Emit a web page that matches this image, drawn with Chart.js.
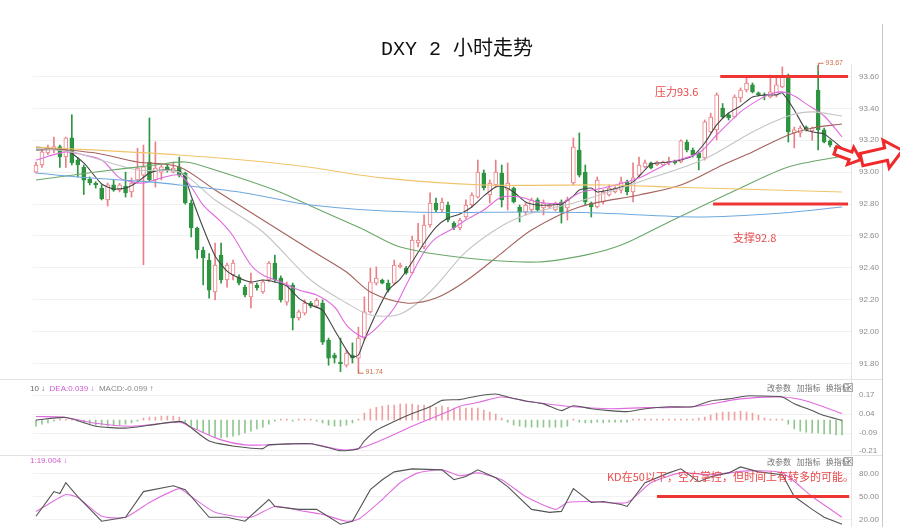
<!DOCTYPE html>
<html>
<head>
<meta charset="utf-8">
<script src="https://cdn.jsdelivr.net/npm/chart.js@4.4.1/dist/chart.umd.min.js"></script>
<style>
html, body { margin: 0; padding: 0; background: #fff; }
#wrap { position: relative; width: 900px; height: 527px; overflow: hidden; }
canvas { position: absolute; left: 0; }
</style>
</head>
<body>
<div id="wrap">
  <canvas id="mainChart" width="900" height="380" style="top:0"></canvas>
  <canvas id="macdChart" width="900" height="77" style="top:378px"></canvas>
  <canvas id="kdChart" width="900" height="72" style="top:455px"></canvas>
</div>
<script>
// 2h candles
var opens = [93.00, 93.045, 93.12, 93.14, 93.16, 93.095, 93.215, 93.076, 93.03, 92.957, 92.932, 92.90, 92.826, 92.92, 92.888, 92.913, 92.876, 92.951, 92.982, 93.064,
    92.951, 93.00, 93.033, 93.00, 93.033, 92.995, 92.807, 92.65, 92.512, 92.449, 92.25, 92.48, 92.324, 92.356, 92.343, 92.28, 92.218, 92.293, 92.249, 92.324,
    92.431, 92.337, 92.186, 92.293, 92.086, 92.117, 92.18, 92.16, 92.18, 91.948, 91.854, 91.81, 91.791, 91.854, 91.835, 91.96, 92.124, 92.305, 92.324, 92.305,
    92.305, 92.406, 92.399, 92.368, 92.556, 92.531, 92.669, 92.807, 92.763, 92.794, 92.681, 92.65, 92.719, 92.794, 92.844, 92.995, 92.857, 92.92, 92.995, 92.888,
    92.901, 92.782, 92.75, 92.763, 92.826, 92.776, 92.782, 92.763, 92.813, 92.776, 92.932, 93.139, 93.001, 92.807, 92.782, 92.813, 92.857, 92.876, 92.888, 92.939,
    92.876, 92.982, 93.033, 93.058, 93.045, 93.045, 93.06, 93.07, 93.064, 93.189, 93.139, 93.12, 93.089, 93.252, 93.265, 93.402, 93.359, 93.346, 93.465, 93.515,
    93.547, 93.497, 93.484, 93.471, 93.484, 93.534, 93.609, 93.246, 93.246, 93.283, 93.258, 93.515, 93.265, 93.196, 93.158, 93.10];
var highs = [93.064, 93.14, 93.17, 93.22, 93.17, 93.22, 93.36, 93.09, 93.045, 92.97, 92.94, 92.92, 92.932, 92.95, 92.93, 93.00, 92.964, 93.15, 93.17, 93.34,
    93.19, 93.045, 93.045, 93.064, 93.095, 93.00, 92.826, 92.656, 92.53, 92.49, 92.556, 92.556, 92.431, 92.449, 92.356, 92.293, 92.368, 92.305, 92.324, 92.44,
    92.48, 92.35, 92.312, 92.305, 92.136, 92.199, 92.19, 92.21, 92.199, 91.96, 91.866, 91.96, 91.885, 91.93, 92.029, 92.218, 92.399, 92.406, 92.33, 92.324,
    92.449, 92.43, 92.41, 92.60, 92.68, 92.732, 92.87, 92.838, 92.838, 92.813, 92.69, 92.71, 92.826, 92.87, 93.076, 93.014, 92.951, 93.076, 93.045, 93.058,
    92.907, 92.794, 92.807, 92.838, 92.838, 92.826, 92.80, 92.813, 92.826, 92.844, 93.214, 93.246, 93.045, 92.813, 92.97, 92.89, 92.92, 92.91, 92.97, 92.951,
    93.058, 93.095, 93.076, 93.064, 93.07, 93.07, 93.095, 93.076, 93.202, 93.202, 93.152, 93.127, 93.327, 93.37, 93.497, 93.43, 93.37, 93.484, 93.528, 93.59,
    93.559, 93.503, 93.497, 93.609, 93.59, 93.66, 93.615, 93.283, 93.29, 93.29, 93.283, 93.67, 93.277, 93.202, 93.164, 93.15];
var lows = [92.995, 93.03, 93.11, 93.12, 93.03, 93.03, 93.045, 92.97, 92.86, 92.92, 92.90, 92.826, 92.788, 92.88, 92.876, 92.844, 92.844, 92.932, 92.42, 92.94,
    92.907, 92.951, 93.00, 92.995, 92.97, 92.80, 92.594, 92.46, 92.293, 92.21, 92.20, 92.305, 92.28, 92.324, 92.293, 92.218, 92.149, 92.261, 92.24, 92.312,
    92.312, 92.186, 92.167, 92.011, 92.073, 92.105, 92.15, 92.15, 91.92, 91.79, 91.804, 91.75, 91.779, 91.804, 91.74, 91.948, 92.117, 92.293, 92.30, 92.249,
    92.293, 92.40, 92.36, 92.368, 92.531, 92.52, 92.656, 92.75, 92.75, 92.688, 92.64, 92.638, 92.71, 92.782, 92.838, 92.888, 92.807, 92.907, 92.782, 92.763,
    92.807, 92.688, 92.732, 92.75, 92.757, 92.732, 92.776, 92.757, 92.681, 92.70, 92.92, 92.97, 92.794, 92.719, 92.776, 92.80, 92.85, 92.87, 92.87, 92.857,
    92.813, 92.97, 93.026, 93.02, 93.04, 93.04, 93.045, 93.05, 93.058, 93.127, 93.095, 93.014, 93.076, 93.246, 93.202, 93.34, 93.327, 93.34, 93.44, 93.503,
    93.497, 93.478, 93.453, 93.465, 93.471, 93.528, 93.189, 93.152, 93.221, 93.258, 93.20, 93.139, 93.183, 93.158, 93.10, 93.09];
var closes = [93.045, 93.127, 93.15, 93.16, 93.095, 93.215, 93.06, 93.045, 92.95, 92.932, 92.92, 92.832, 92.92, 92.888, 92.92, 92.87, 92.932, 93.026, 93.033, 92.951,
    93.026, 93.033, 93.014, 93.026, 92.982, 92.807, 92.65, 92.512, 92.462, 92.261, 92.418, 92.324, 92.418, 92.431, 92.305, 92.23, 92.305, 92.274, 92.312, 92.431,
    92.324, 92.199, 92.293, 92.086, 92.124, 92.18, 92.16, 92.199, 91.935, 91.835, 91.835, 91.80, 91.866, 91.835, 91.96, 92.124, 92.312, 92.337, 92.305, 92.261,
    92.418, 92.418, 92.368, 92.575, 92.575, 92.669, 92.807, 92.763, 92.813, 92.70, 92.65, 92.70, 92.794, 92.857, 93.001, 92.901, 92.932, 93.001, 92.826, 92.932,
    92.813, 92.75, 92.794, 92.826, 92.763, 92.807, 92.794, 92.807, 92.75, 92.826, 93.158, 92.982, 92.813, 92.782, 92.951, 92.876, 92.901, 92.90, 92.939, 92.876,
    92.964, 93.045, 93.058, 93.026, 93.064, 93.064, 93.07, 93.06, 93.196, 93.139, 93.108, 93.089, 93.315, 93.346, 93.484, 93.346, 93.34, 93.471, 93.515, 93.559,
    93.503, 93.484, 93.478, 93.503, 93.547, 93.597, 93.252, 93.265, 93.277, 93.265, 93.277, 93.265, 93.189, 93.17, 93.108, 93.139];

// moving averages, [candle index, value]
var ma5 = [[0, 93.139], [5, 93.139], [8, 93.058], [11, 92.926], [13, 92.895], [15, 92.901], [17, 92.939], [19, 92.995], [21, 93.014], [24, 93.008],
    [25, 92.964], [26, 92.851], [28, 92.65], [30, 92.475], [32, 92.38], [34, 92.337], [36, 92.312], [38, 92.324], [40, 92.312], [42, 92.287],
    [44, 92.211], [46, 92.167], [48, 92.136], [50, 92.011], [52, 91.885], [53, 91.841], [54, 91.854], [55, 91.948], [57, 92.117], [59, 92.261],
    [61, 92.33], [63, 92.437], [65, 92.556], [67, 92.656], [69, 92.713], [71, 92.738], [73, 92.782], [75, 92.851], [77, 92.907], [78, 92.913],
    [80, 92.876], [82, 92.813], [84, 92.794], [86, 92.794], [88, 92.80], [90, 92.851], [91, 92.888], [93, 92.901], [94, 92.876], [96, 92.888],
    [98, 92.907], [100, 92.939], [102, 93.014], [103, 93.051], [106, 93.064], [108, 93.076], [110, 93.102], [112, 93.183], [114, 93.296], [116, 93.371],
    [118, 93.415], [120, 93.471], [122, 93.484], [124, 93.484], [125, 93.497], [127, 93.39], [129, 93.265], [131, 93.246], [132, 93.24], [135, 93.152]];
var ma10 = [[0, 93.076], [5, 93.127], [8, 93.108], [11, 93.076], [14, 92.964], [16, 92.939], [18, 92.932], [21, 92.964], [24, 92.982], [26, 92.907],
    [28, 92.794], [31, 92.688], [33, 92.60], [36, 92.418], [38, 92.356], [41, 92.312], [44, 92.261], [47, 92.23], [50, 92.155], [52, 92.042],
    [54, 91.979], [55, 91.967], [57, 92.023], [60, 92.149], [62, 92.293], [65, 92.50], [67, 92.587], [70, 92.65], [72, 92.70], [75, 92.763],
    [78, 92.844], [81, 92.844], [84, 92.813], [88, 92.807], [91, 92.87], [95, 92.901], [101, 92.964], [106, 93.058], [111, 93.12], [114, 93.233],
    [118, 93.378], [121, 93.453], [123, 93.49], [125, 93.503], [127, 93.478], [129, 93.428], [132, 93.352], [135, 93.221]];
var ma20 = [[0, 93.15], [6, 93.127], [17, 93.014], [24, 93.001], [30, 92.826], [38, 92.625], [46, 92.324], [52, 92.18], [56, 92.105], [61, 92.111],
    [66, 92.249], [72, 92.50], [78, 92.663], [83, 92.744], [90, 92.807], [101, 92.939], [112, 93.083], [120, 93.252], [126, 93.352], [130, 93.378], [135, 93.352]];
var ma30 = [[0, 93.158], [10, 93.12], [17, 93.064], [24, 93.033], [30, 92.888], [38, 92.70], [46, 92.512], [52, 92.374], [56, 92.249], [62, 92.18],
    [67, 92.211], [72, 92.318], [78, 92.493], [83, 92.638], [91, 92.782], [101, 92.857], [108, 92.92], [115, 93.045], [120, 93.127], [126, 93.233],
    [130, 93.277], [135, 93.302]];
var ma60 = [[0, 92.951], [10, 93.001], [20, 93.045], [25, 93.064], [30, 93.014], [40, 92.888], [46, 92.788], [55, 92.638], [61, 92.531], [72, 92.462],
    [84, 92.437], [92, 92.48], [98, 92.543], [106, 92.688], [118, 92.901], [126, 93.033], [135, 93.10]];
var ma120 = [[0, 92.995], [7, 92.97], [19, 92.939], [24, 92.92], [35, 92.87], [46, 92.794], [63, 92.75], [83, 92.75], [94, 92.744], [111, 92.719],
    [125, 92.744], [135, 92.782]];
var ma250 = [[0, 93.158], [24, 93.108], [43, 93.045], [58, 92.964], [75, 92.92], [96, 92.92], [106, 92.907], [135, 92.876]];

// MACD
var macdHist = [-0.041, -0.027, -0.02, -0.007, 0.007, 0.007, 0.007, -0.007, -0.02, -0.027, -0.034, -0.034, -0.041, -0.034, -0.034, -0.027, -0.02, -0.007, 0.014, 0.02,
    0.02, 0.027, 0.027, 0.027, 0.02, -0.014, -0.041, -0.061, -0.082, -0.102, -0.116, -0.122, -0.116, -0.109, -0.102, -0.088, -0.075, -0.061, -0.048, -0.027,
    -0.007, 0.007, 0.007, -0.007, 0.007, 0.007, 0.007, -0.007, -0.02, -0.034, -0.041, -0.041, -0.034, -0.02, 0.007, 0.048, 0.075, 0.088, 0.095, 0.102,
    0.102, 0.109, 0.109, 0.109, 0.102, 0.102, 0.095, 0.088, 0.095, 0.088, 0.082, 0.088, 0.082, 0.082, 0.082, 0.068, 0.054, 0.041, 0.014, -0.014,
    -0.034, -0.041, -0.048, -0.048, -0.048, -0.048, -0.048, -0.048, -0.048, -0.041, 0.007, -0.014, -0.02, -0.02, -0.014, -0.02, -0.014, -0.014, -0.014, -0.014,
    0.007, 0.007, 0.007, 0.007, 0.007, 0.007, 0.007, 0.007, 0.007, 0.007, 0.007, 0.014, 0.02, 0.034, 0.048, 0.054, 0.054, 0.054, 0.061, 0.054,
    0.048, 0.034, 0.014, 0.007, 0.007, 0.007, -0.027, -0.061, -0.075, -0.082, -0.088, -0.088, -0.095, -0.095, -0.102, -0.102];
var dif = [[0, 0.0], [5, 0.018], [10, -0.042], [15, -0.055], [19, -0.035], [24, -0.009], [25, -0.022], [29, -0.142], [34, -0.182], [38, -0.195],
    [39, -0.169], [43, -0.162], [46, -0.162], [49, -0.189], [51, -0.209], [54, -0.195], [55, -0.142], [57, -0.069], [60, -0.009], [63, 0.045],
    [66, 0.091], [68, 0.135], [71, 0.14], [74, 0.165], [77, 0.178], [79, 0.158], [82, 0.131], [85, 0.111], [88, 0.065], [90, 0.098],
    [93, 0.078], [96, 0.065], [99, 0.058], [102, 0.078], [106, 0.091], [110, 0.091], [113, 0.131], [116, 0.145], [119, 0.165], [121, 0.165],
    [125, 0.158], [127, 0.111], [130, 0.065], [132, 0.031], [135, -0.002]];
var dea = [[0, 0.025], [5, 0.018], [10, -0.022], [16, -0.042], [24, -0.015], [26, -0.049], [31, -0.135], [35, -0.169], [39, -0.169], [46, -0.162],
    [51, -0.202], [54, -0.195], [58, -0.135], [63, -0.042], [69, 0.058], [71, 0.095], [74, 0.12], [78, 0.158], [82, 0.131], [90, 0.091],
    [96, 0.078], [102, 0.085], [110, 0.091], [118, 0.145], [125, 0.158], [129, 0.131], [135, 0.045]];

// KD
var kLine = [[0, 24.5], [3, 56.4], [4, 53.8], [5, 67.9], [7, 50], [11, 18.1], [15, 23.2], [18, 56.4], [23, 64.0], [25, 58.9],
    [29, 23.2], [32, 23.2], [35, 18.1], [39, 46.2], [40, 37.2], [44, 33.4], [47, 33.4], [51, 14.2], [53, 18.1], [56, 58.9],
    [58, 71.7], [60, 81.9], [63, 85.8], [68, 84.5], [70, 71.7], [72, 76], [74, 84.5], [77, 74.3], [79, 62.8], [83, 33.4],
    [86, 29.6], [88, 30.8], [90, 60.2], [93, 42.3], [95, 43.6], [98, 39.8], [99, 37.2], [102, 67.9], [106, 80.6], [108, 85.8],
    [111, 69.2], [113, 75.5], [116, 80.6], [118, 88.3], [121, 81.9], [125, 78.1], [127, 50], [130, 33.4], [132, 23.2], [135, 14.2]];
var dLine = [[0, 30.8], [2, 39.8], [5, 52.6], [7, 48.7], [11, 24.5], [15, 23.2], [19, 42.3], [24, 60.2], [26, 50], [30, 29.6],
    [36, 23.2], [40, 37.2], [45, 30.8], [48, 27.0], [52, 18.1], [54, 20.6], [58, 46.2], [61, 67.9], [64, 80.6], [68, 84.5],
    [71, 76.8], [74, 80.6], [78, 71.7], [82, 50], [87, 33.4], [89, 42.3], [93, 43.6], [99, 42.3], [103, 67.9], [108, 80.6],
    [113, 78.1], [119, 83.2], [125, 80.6], [130, 50], [135, 23.2]];

var priceTicks = [91.8, 92.0, 92.2, 92.4, 92.6, 92.8, 93.0, 93.2, 93.4, 93.6];
var macdTicks = [0.17, 0.04, -0.09, -0.21];
var kdTicks = [80, 50, 20];
var resistance = 93.6, support = 92.8, kdLevel = 50;

Chart.defaults.font.family = '"Liberation Sans", "DejaVu Sans", "Noto Sans CJK SC", sans-serif';
Chart.defaults.animation = false;

var upColor = '#ea7f86';
var downColor = '#2d9440';
var idx = closes.map(function (c, i) { return i; });
var candleColors = idx.map(function (i) { return closes[i] >= opens[i] ? upColor : downColor; });
var bodyFill = idx.map(function (i) { return closes[i] >= opens[i] ? '#ffffff' : downColor; });

function pts(arr) { return arr.map(function (p) { return { x: p[0], y: p[1] }; }); }
function maLine(arr, color, tension) {
    return { type: 'line', data: pts(arr), borderColor: color, borderWidth: 1.1, pointRadius: 0, tension: tension, order: 1 };
}
function vline(ctx, x, y0, y1, color) {
    ctx.strokeStyle = color; ctx.lineWidth = 1;
    ctx.beginPath(); ctx.moveTo(x, y0); ctx.lineTo(x, y1); ctx.stroke();
}
function hollowArrow(ctx, cx, cy, len, ang) {
    var shape = [[-0.5, -0.15], [0.1, -0.15], [0.1, -0.34], [0.5, 0], [0.1, 0.34], [0.1, 0.15], [-0.5, 0.15]];
    ctx.save();
    ctx.translate(cx, cy); ctx.rotate(ang);
    ctx.beginPath();
    shape.forEach(function (p, k) {
        if (k) ctx.lineTo(p[0] * len, p[1] * len); else ctx.moveTo(p[0] * len, p[1] * len);
    });
    ctx.closePath();
    ctx.fillStyle = '#fff'; ctx.fill();
    ctx.lineJoin = 'miter'; ctx.lineWidth = 3; ctx.strokeStyle = '#f02a2a'; ctx.stroke();
    ctx.restore();
}
function toolText(ctx, y) {
    ctx.font = '8px "Noto Sans CJK SC", sans-serif';
    ctx.fillStyle = '#777'; ctx.textBaseline = 'middle'; ctx.textAlign = 'left';
    ctx.fillText('改参数   加指标   换指标', 767, y);
    ctx.strokeStyle = '#aaa'; ctx.lineWidth = 1;
    ctx.strokeRect(844.5, y - 4.5, 8, 8);
    ctx.font = '8px "DejaVu Sans", sans-serif';
    ctx.fillText('×', 846, y);
}
function yAxis(min, max, ticks, fmt) {
    return {
        position: 'right', min: min, max: max,
        afterFit: function (s) { s.width = 30; },
        afterBuildTicks: function (s) { s.ticks = ticks.map(function (v) { return { value: v }; }); },
        ticks: { padding: 0, color: '#8c8c8c', font: { size: 8, lineHeight: 0.2 }, callback: function (v) { return fmt(v); } },
        grid: { color: '#f1f1f1', drawTicks: true, tickLength: 8, tickColor: 'rgba(0,0,0,0)' },
        border: { display: true, color: '#e4e4e4' }
    };
}
function xAxis() { return { type: 'linear', min: -0.5, max: 136.5, display: false, offset: false }; }

var mainMarks = {
    id: 'mainMarks',
    afterDatasetsDraw: function (chart) {
        var ctx = chart.ctx, xs = chart.scales.x, ys = chart.scales.y;
        ctx.save();
        // resistance / support
        ctx.strokeStyle = '#ef3434'; ctx.lineWidth = 3;
        ctx.beginPath();
        ctx.moveTo(xs.getPixelForValue(114.6), ys.getPixelForValue(resistance));
        ctx.lineTo(xs.getPixelForValue(136), ys.getPixelForValue(resistance));
        ctx.moveTo(xs.getPixelForValue(113.4), ys.getPixelForValue(support));
        ctx.lineTo(xs.getPixelForValue(136), ys.getPixelForValue(support));
        ctx.stroke();
        ctx.font = '11px "Noto Sans CJK SC", sans-serif';
        ctx.fillStyle = '#e8484a'; ctx.textBaseline = 'middle'; ctx.textAlign = 'left';
        ctx.fillText('压力' + resistance.toFixed(1), 655, 92);
        ctx.fillText('支撑' + support.toFixed(1), 733, 238);

        // extreme markers
        var hi = 0, lo = 0;
        idx.forEach(function (i) { if (highs[i] > highs[hi]) hi = i; if (lows[i] < lows[lo]) lo = i; });
        ctx.strokeStyle = '#d0704a'; ctx.lineWidth = 1; ctx.fillStyle = '#d0704a';
        ctx.font = '7px "Liberation Sans", sans-serif';
        var hx = Math.round(xs.getPixelForValue(hi)) + 0.5, hy = ys.getPixelForValue(highs[hi]);
        ctx.beginPath(); ctx.moveTo(hx, hy + 6); ctx.lineTo(hx, hy - 2); ctx.lineTo(hx + 5, hy - 2); ctx.stroke();
        ctx.fillText(highs[hi].toFixed(2), hx + 7, hy - 2);
        var lx = Math.round(xs.getPixelForValue(lo)) + 0.5, ly = ys.getPixelForValue(lows[lo]);
        ctx.beginPath(); ctx.moveTo(lx, ly - 4); ctx.lineTo(lx, ly); ctx.lineTo(lx + 5, ly); ctx.stroke();
        ctx.fillText(lows[lo].toFixed(2), lx + 7, ly - 1);

        vline(ctx, 882.5, 24, 380, '#c8c8c8');
        hollowArrow(ctx, 848, 155, 27, 0.35);
        hollowArrow(ctx, 882, 155, 42, -0.22);
        ctx.restore();
    }
};

new Chart(document.getElementById('mainChart'), {
    type: 'bar',
    data: {
        datasets: [
            { type: 'bar', data: idx.map(function (i) { return { x: i, y: [lows[i], highs[i]] }; }),
              backgroundColor: candleColors, barThickness: 1, grouped: false, order: 3 },
            { type: 'bar', data: idx.map(function (i) { return { x: i, y: [opens[i], closes[i]] }; }),
              backgroundColor: bodyFill, borderColor: candleColors, borderWidth: 1, borderSkipped: false,
              barThickness: 4, grouped: false, order: 2 },
            maLine(ma250, '#f2c46a', 0.3),
            maLine(ma120, '#6fa8dc', 0.3),
            maLine(ma60, '#6aa86a', 0.3),
            maLine(ma30, '#a5625e', 0.3),
            maLine(ma20, '#c4c4c4', 0.3),
            maLine(ma10, '#e06ae0', 0.3),
            maLine(ma5, '#444444', 0.2)
        ]
    },
    options: {
        responsive: false,
        layout: { padding: { top: 0, left: 33, right: 19, bottom: 2 }, autoPadding: false },
        plugins: {
            legend: { display: false }, tooltip: { enabled: false },
            title: { display: true, text: 'DXY 2 小时走势', color: '#111',
                     font: { size: 20, weight: 'normal', family: '"Liberation Mono", "Noto Sans CJK SC", monospace' },
                     padding: { top: 38, bottom: 2 } }
        },
        scales: {
            x: xAxis(),
            y: yAxis(91.71, 93.678, priceTicks, function (v) { return v.toFixed(2); })
        }
    },
    plugins: [mainMarks]
});

var macdMarks = {
    id: 'macdMarks',
    afterDatasetsDraw: function (chart) {
        var ctx = chart.ctx;
        ctx.save();
        ctx.strokeStyle = '#e2e2e2'; ctx.lineWidth = 1;
        ctx.beginPath(); ctx.moveTo(0, 1.5); ctx.lineTo(882, 1.5); ctx.stroke();
        vline(ctx, 882.5, 0, 77, '#c8c8c8');
        ctx.font = '8px "Liberation Sans", "DejaVu Sans", sans-serif';
        ctx.textBaseline = 'middle'; ctx.textAlign = 'left';
        var x = 30;
        [['10 ↓  ', '#666'], ['DEA:0.039 ↓  ', '#d05ad0'], ['MACD:-0.099 ↑', '#888']].forEach(function (p) {
            ctx.fillStyle = p[1]; ctx.fillText(p[0], x, 11); x += ctx.measureText(p[0]).width;
        });
        toolText(ctx, 10);
        ctx.restore();
    }
};

new Chart(document.getElementById('macdChart'), {
    type: 'bar',
    data: {
        datasets: [
            { type: 'bar', data: idx.map(function (i) { return { x: i, y: macdHist[i] }; }),
              backgroundColor: macdHist.map(function (v) { return v >= 0 ? '#f0a0a0' : '#8fc78f'; }),
              barThickness: 1, order: 2 },
            { type: 'line', data: pts(dif), borderColor: '#555', borderWidth: 1.1, pointRadius: 0, tension: 0.2, order: 1 },
            { type: 'line', data: pts(dea), borderColor: '#e06ae0', borderWidth: 1.1, pointRadius: 0, tension: 0.3, order: 1 }
        ]
    },
    options: {
        responsive: false,
        layout: { padding: { top: 2, left: 33, right: 19, bottom: 0 }, autoPadding: false },
        plugins: { legend: { display: false }, tooltip: { enabled: false } },
        scales: {
            x: xAxis(),
            y: yAxis(-0.233, 0.274, macdTicks, function (v) { return v.toFixed(2); })
        }
    },
    plugins: [macdMarks]
});

var kdMarks = {
    id: 'kdMarks',
    afterDatasetsDraw: function (chart) {
        var ctx = chart.ctx, xs = chart.scales.x, ys = chart.scales.y;
        ctx.save();
        ctx.strokeStyle = '#e2e2e2'; ctx.lineWidth = 1;
        ctx.beginPath(); ctx.moveTo(0, 0.5); ctx.lineTo(882, 0.5); ctx.stroke();
        vline(ctx, 882.5, 0, 72, '#c8c8c8');
        ctx.strokeStyle = '#ef3434'; ctx.lineWidth = 3;
        ctx.beginPath();
        ctx.moveTo(xs.getPixelForValue(104), ys.getPixelForValue(kdLevel));
        ctx.lineTo(xs.getPixelForValue(136.2), ys.getPixelForValue(kdLevel));
        ctx.stroke();
        ctx.font = '11px "Noto Sans CJK SC", sans-serif';
        ctx.fillStyle = '#e8484a'; ctx.textBaseline = 'middle'; ctx.textAlign = 'left';
        ctx.fillText('KD在50以下，空方掌控，但时间上有转多的可能。', 607, 22);
        ctx.font = '8px "Liberation Sans", "DejaVu Sans", sans-serif';
        ctx.fillStyle = '#d05ad0';
        ctx.fillText('1:19.004 ↓', 30, 6);
        toolText(ctx, 7);
        ctx.restore();
    }
};

new Chart(document.getElementById('kdChart'), {
    type: 'line',
    data: {
        datasets: [
            { data: pts(kLine), borderColor: '#555', borderWidth: 1.1, pointRadius: 0, tension: 0 },
            { data: pts(dLine), borderColor: '#e070e0', borderWidth: 1.1, pointRadius: 0, tension: 0.2 }
        ]
    },
    options: {
        responsive: false,
        layout: { padding: { top: 2, left: 33, right: 19, bottom: 0 }, autoPadding: false },
        plugins: { legend: { display: false }, tooltip: { enabled: false } },
        scales: {
            x: xAxis(),
            y: yAxis(11.7, 101.1, kdTicks, function (v) { return v.toFixed(2); })
        }
    },
    plugins: [kdMarks]
});
</script>
</body>
</html>
